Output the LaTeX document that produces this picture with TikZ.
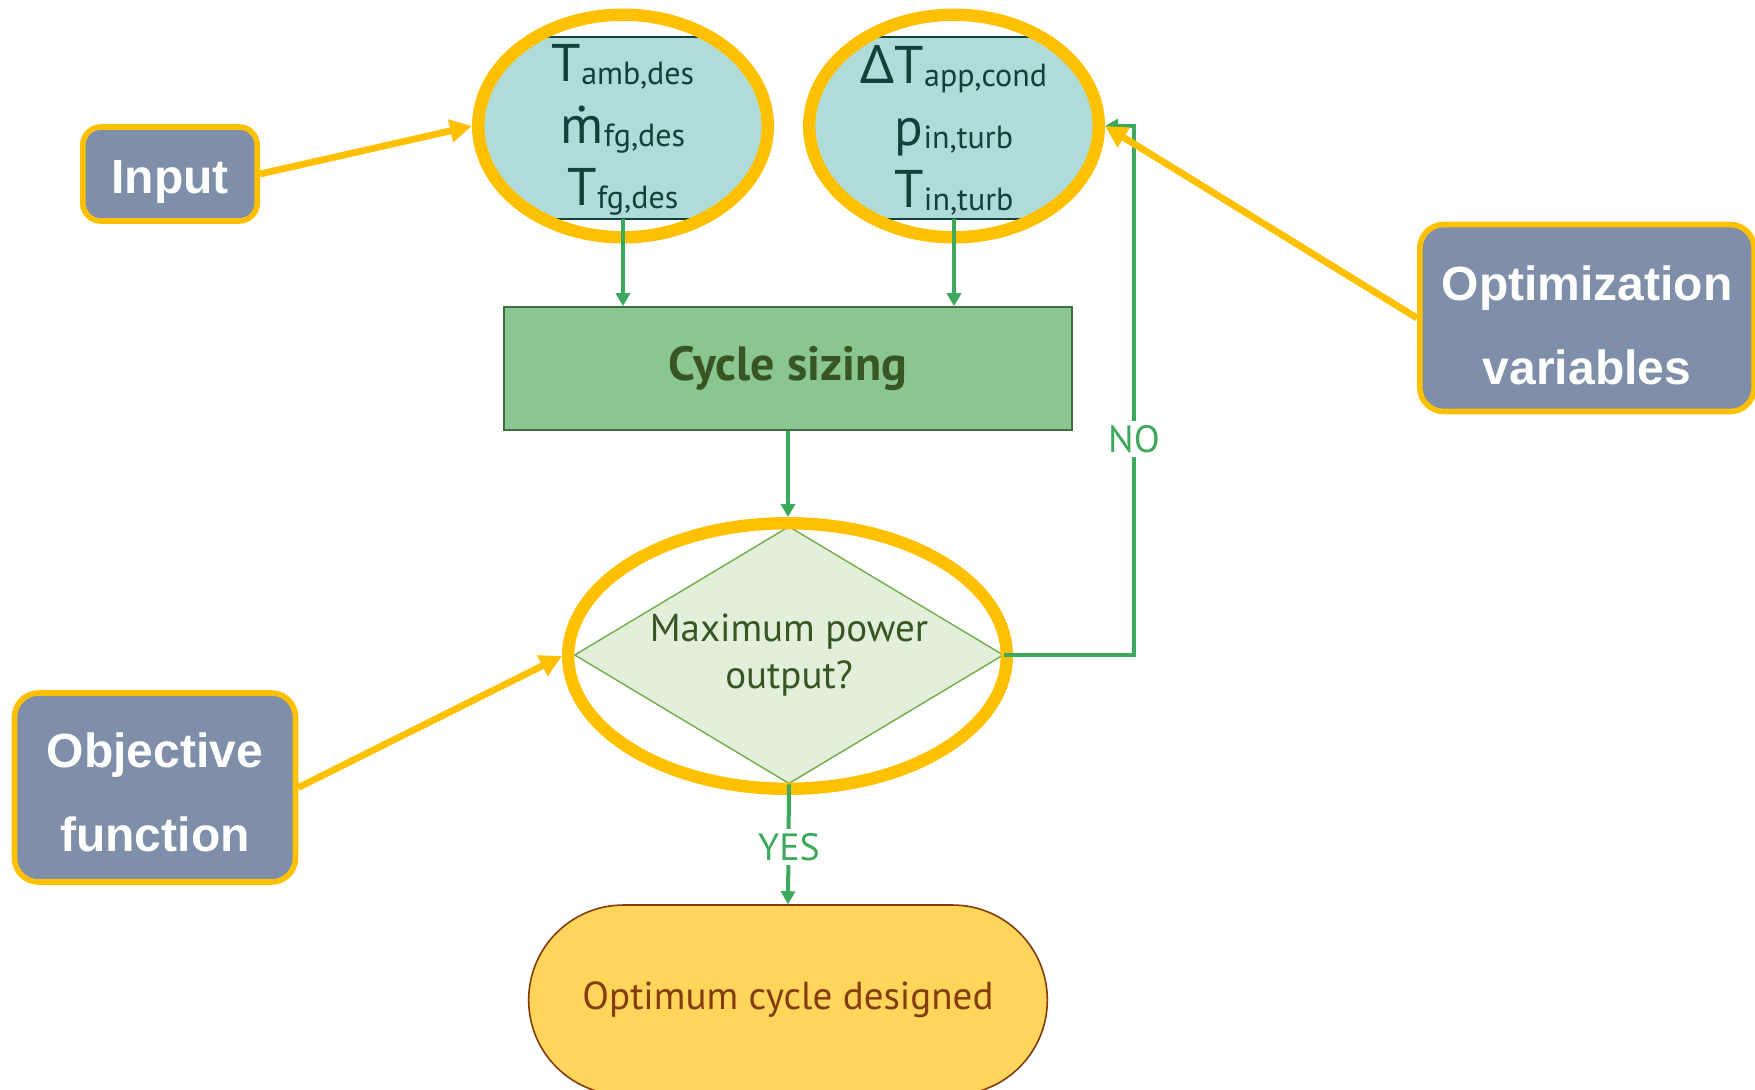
\documentclass[tikz,border=0pt]{standalone}
\usepackage{fontspec}
\setmainfont{PT Sans}
\newfontfamily\labfont{Liberation Sans}
\newfontfamily\grkfont{Noto Sans}
\usetikzlibrary{shapes.geometric,shapes.misc,arrows.meta}
\definecolor{org}{HTML}{FFC000}
\definecolor{slate}{HTML}{7F8FA9}
\definecolor{tealc}{HTML}{AFDCD9}
\definecolor{darkt}{HTML}{12403A}
\definecolor{cycf}{HTML}{8AC592}
\definecolor{cycd}{HTML}{3F6F3F}
\definecolor{cyct}{HTML}{375623}
\definecolor{gar}{HTML}{3DA95D}
\definecolor{diaf}{HTML}{E2EFDA}
\definecolor{diad}{HTML}{70AD47}
\definecolor{termf}{HTML}{FFD55B}
\definecolor{termd}{HTML}{843C0C}
\newcommand\vsub[2]{{\fontsize{26.5}{31}\selectfont #1}{\fontsize{16}{18}\selectfont\raisebox{-1.5pt}{#2}}}
\newcommand\mdotc{\ooalign{m\cr\hidewidth\raisebox{0.6em}{.}\hidewidth\cr}}
\tikzset{
  callout/.style={draw=org, line width=2.8pt, fill=slate, rounded corners=9pt},
  callouttxt/.style={text=white, font=\labfont\bfseries\fontsize{24}{42}\selectfont, align=center, inner sep=0pt},
  ring/.style={ellipse, draw=org, line width=6.2pt, inner sep=0pt},
  oarrow/.style={draw=org, line width=3.4pt, -{Triangle[length=11pt,width=11pt]}},
  garrow/.style={draw=gar, line width=2pt, -{Triangle[length=6.5pt,width=7pt]}},
  vartext/.style={text=darkt, align=center, font=\fontsize{26.5}{31}\selectfont, inner sep=0pt},
  yesno/.style={fill=white, text=gar, inner sep=2pt, font=\fontsize{19}{22}\selectfont},
}
\begin{document}
\begin{tikzpicture}[x=0.5pt,y=-0.5pt]
\clip (0,0) rectangle (1755,1089);
\fill[white] (0,0) rectangle (1755,1089);

% teal fills inside top ellipses
\begin{scope}
\clip (623,126) ellipse [x radius=146, y radius=112];
\fill[tealc] (460,37) rectangle (790,219);
\draw[darkt, line width=1pt] (460,37) -- (790,37) (460,219) -- (790,219);
\end{scope}
\begin{scope}
\clip (954,126) ellipse [x radius=146, y radius=112];
\fill[tealc] (790,37) rectangle (1120,219);
\draw[darkt, line width=1pt] (790,37) -- (1120,37) (790,219) -- (1120,219);
\end{scope}

% nodes
\node[ring, minimum width=144.8pt, minimum height=111.3pt] (ringL) at (623,126) {};
\node[ring, minimum width=144.8pt, minimum height=111.3pt] (ringR) at (954,126) {};
\node[vartext] (txtL) at (623,130) {\vsub{T}{amb,des}\\\vsub{\mdotc}{fg,des}\\\vsub{T}{fg,des}};
\node[vartext] (txtR) at (954,130) {\vsub{{\grkfont Δ}T}{app,cond}\\\vsub{p}{in,turb}\\\vsub{T}{in,turb}};

\node[draw=cycd, fill=cycf, line width=0.8pt, minimum width=284pt, minimum height=61.5pt,
  text=cyct, font=\bfseries\fontsize{24}{28}\selectfont] (cyc) at (788,368.5) {Cycle sizing};

\node[diamond, draw=diad, fill=diaf, line width=0.7pt, inner sep=0pt, minimum width=214.5pt,
  minimum height=128.7pt] (dia) at (789,655) {};
\node[text=cyct, align=center, font=\fontsize{19.5}{23.5}\selectfont] (diatxt) at (789,655) {Maximum power\\output?};
\node[ring, minimum width=219.3pt, minimum height=132.8pt] (dring) at (787.5,656) {};

\node[rounded rectangle, draw=termd, fill=termf, line width=0.8pt, minimum width=266pt,
  minimum height=95pt, text=termd, font=\fontsize{19.5}{23}\selectfont] (term) at (788,1000) {Optimum cycle designed};

\node[callout, minimum width=87.2pt, minimum height=47pt,
  label={[callouttxt, yshift=-4pt]center:Input}] (inp) at (170,174) {};
\node[callout, rounded corners=12pt, minimum width=167.2pt, minimum height=93.5pt,
  label={[callouttxt, yshift=-3.5pt]center:Optimization\\variables}] (opt) at (1587,318) {};
\node[callout, rounded corners=12pt, minimum width=140.5pt, minimum height=94.5pt,
  label={[callouttxt, yshift=-2.5pt]center:Objective\\function}] (obj) at (155,787.5) {};

% green connectors
\coordinate (lbot) at (623,219);
\coordinate (rbot) at (954,219);
\coordinate (nox) at (1134,0);
\draw[garrow] (lbot) -- (lbot |- cyc.north);
\draw[garrow] (rbot) -- (rbot |- cyc.north);
\draw[garrow] (cyc.south) -- (cyc.south |- dring.north);
\draw[garrow] (dia.east) -| (nox |- ringR.east) -- (ringR.east);
\draw[garrow] (dia.south) -- (term.north);
\node[yesno] (no) at (1134,439) {NO};
\node[yesno] (yes) at (789,847) {YES};

% orange connectors
\draw[oarrow] (inp.east) -- (ringL.west);
\draw[oarrow] (opt.west) -- (ringR.east);
\draw[oarrow] (obj.east) -- (dring.west);
\end{tikzpicture}
\end{document}
